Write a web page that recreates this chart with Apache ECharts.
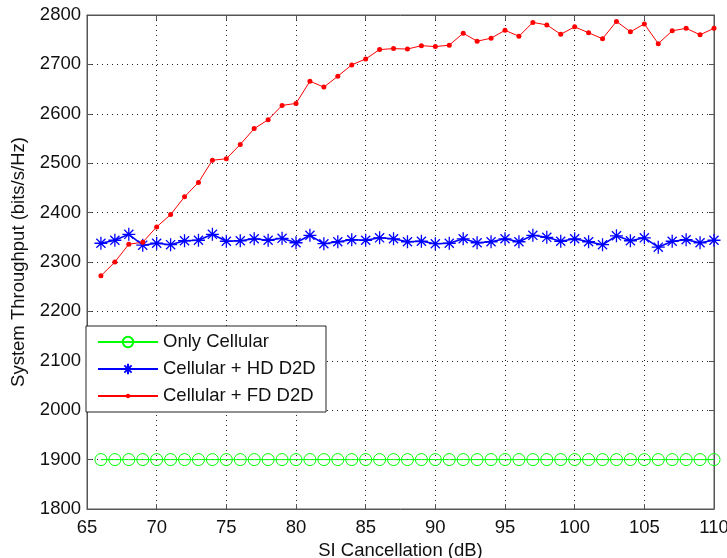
<!DOCTYPE html>
<html><head><meta charset="utf-8">
<script src="https://cdn.jsdelivr.net/npm/echarts@6/dist/echarts.min.js"></script>
<style>html,body{margin:0;padding:0;background:#fff}#c{width:727px;height:558px}</style>
</head><body><div id="c"></div>
<script>
const xValues = [66,67,68,69,70,71,72,73,74,75,76,77,78,79,80,81,82,83,84,85,86,87,88,89,90,91,92,93,94,95,96,97,98,99,100,101,102,103,104,105,106,107,108,109,110];
const onlyCellular = [1900,1900,1900,1900,1900,1900,1900,1900,1900,1900,1900,1900,1900,1900,1900,1900,1900,1900,1900,1900,1900,1900,1900,1900,1900,1900,1900,1900,1900,1900,1900,1900,1900,1900,1900,1900,1900,1900,1900,1900,1900,1900,1900,1900,1900];
const cellularHD = [2338,2344,2356,2334,2338,2335,2343,2344,2356,2342,2343,2347,2344,2348,2339,2354,2337,2341,2345,2344,2349,2347,2341,2342,2337,2338,2347,2339,2341,2347,2341,2354,2350,2342,2347,2341,2335,2353,2343,2349,2330,2342,2345,2339,2344];
const cellularFD = [2272,2300,2336,2340,2371,2396,2432,2461,2506,2509,2538,2570,2588,2617,2621,2666,2654,2676,2699,2711,2730,2732,2731,2738,2736,2739,2763,2747,2753,2769,2757,2785,2780,2761,2776,2764,2752,2787,2766,2782,2742,2768,2773,2760,2773];
const seriesNames = ['Only Cellular','Cellular + HD D2D','Cellular + FD D2D'];
const xTitle = 'SI Cancellation (dB)';
const yTitle = 'System Throughput (bits/s/Hz)';

const pairs = ys => xValues.map((x,i)=>[x, ys[i]]);
const font = "'Liberation Sans', Arial, sans-serif";
const fs = 18.5;
const star = 'path://M5,0L5,10M0,5L10,5M1.5,1.5L8.5,8.5M8.5,1.5L1.5,8.5';
const gridLine = {show:true, lineStyle:{color:'#222', type:[1,4], width:1}};
const axisLine = {show:true, lineStyle:{color:'#555', width:1}};
const tick = {show:true, inside:true, length:5, lineStyle:{color:'#555'}};
const txt = {fontFamily:font, fontSize:fs, color:'#111'};

function legendFor(name, top, h) {
  return {
    orient:'vertical', left:97, top:top, padding:0,
    itemWidth:60, itemHeight:h, itemGap:0,
    textStyle:Object.assign({lineHeight:20}, txt),
    data:[name], selectedMode:false, z:6
  };
}

const chart = echarts.init(document.getElementById('c'));
chart.setOption({
  animation:false,
  backgroundColor:'#fff',
  grid:{left:87, right:13, top:15, bottom:49, show:true, borderColor:'#555', borderWidth:1,
        containLabel:false, outerBoundsMode:'none'},
  graphic:[{type:'rect', z:5, shape:{x:86, y:326, width:240, height:86},
    style:{fill:'#fff', stroke:'#222', lineWidth:1}}],
  legend:[
    legendFor(seriesNames[0], 332, 13),
    legendFor(seriesNames[1], 359, 13),
    legendFor(seriesNames[2], 386, 5.5)
  ],
  xAxis:[{
    type:'value', min:65, max:110, interval:5,
    name:xTitle, nameLocation:'middle', nameGap:29.5, nameTextStyle:txt,
    axisLine:axisLine, axisTick:tick,
    axisLabel:Object.assign({margin:9}, txt),
    splitLine:gridLine
  },{
    type:'value', min:65, max:110, interval:5, position:'top',
    axisLine:axisLine, axisTick:tick, axisLabel:{show:false}, splitLine:{show:false}
  }],
  yAxis:[{
    type:'value', min:1800, max:2800, interval:100,
    name:yTitle, nameLocation:'middle', nameGap:59, nameRotate:90, nameTextStyle:txt,
    axisLine:axisLine, axisTick:tick,
    axisLabel:Object.assign({margin:6, formatter:v=>String(v)}, txt),
    splitLine:gridLine
  },{
    type:'value', min:1800, max:2800, interval:100, position:'right',
    axisLine:axisLine, axisTick:tick, axisLabel:{show:false}, splitLine:{show:false}
  }],
  series:[{
    name:seriesNames[0], type:'line', data:pairs(onlyCellular),
    symbol:'circle', symbolSize:12,
    lineStyle:{color:'#00ff00', width:1},
    itemStyle:{color:'rgba(0,0,0,0)', borderColor:'#00ff00', borderWidth:1},
    emphasis:{disabled:true}
  },{
    name:seriesNames[1], type:'line', data:pairs(cellularHD),
    symbol:star, symbolSize:13,
    lineStyle:{color:'#0000ff', width:1.6},
    itemStyle:{color:'#0000ff', borderColor:'#0000ff', borderWidth:1.3},
    emphasis:{disabled:true}
  },{
    name:seriesNames[2], type:'line', data:pairs(cellularFD),
    symbol:'circle', symbolSize:5,
    lineStyle:{color:'#ff0000', width:1},
    itemStyle:{color:'#ff0000', borderWidth:0},
    emphasis:{disabled:true}
  }]
});
</script></body></html>
